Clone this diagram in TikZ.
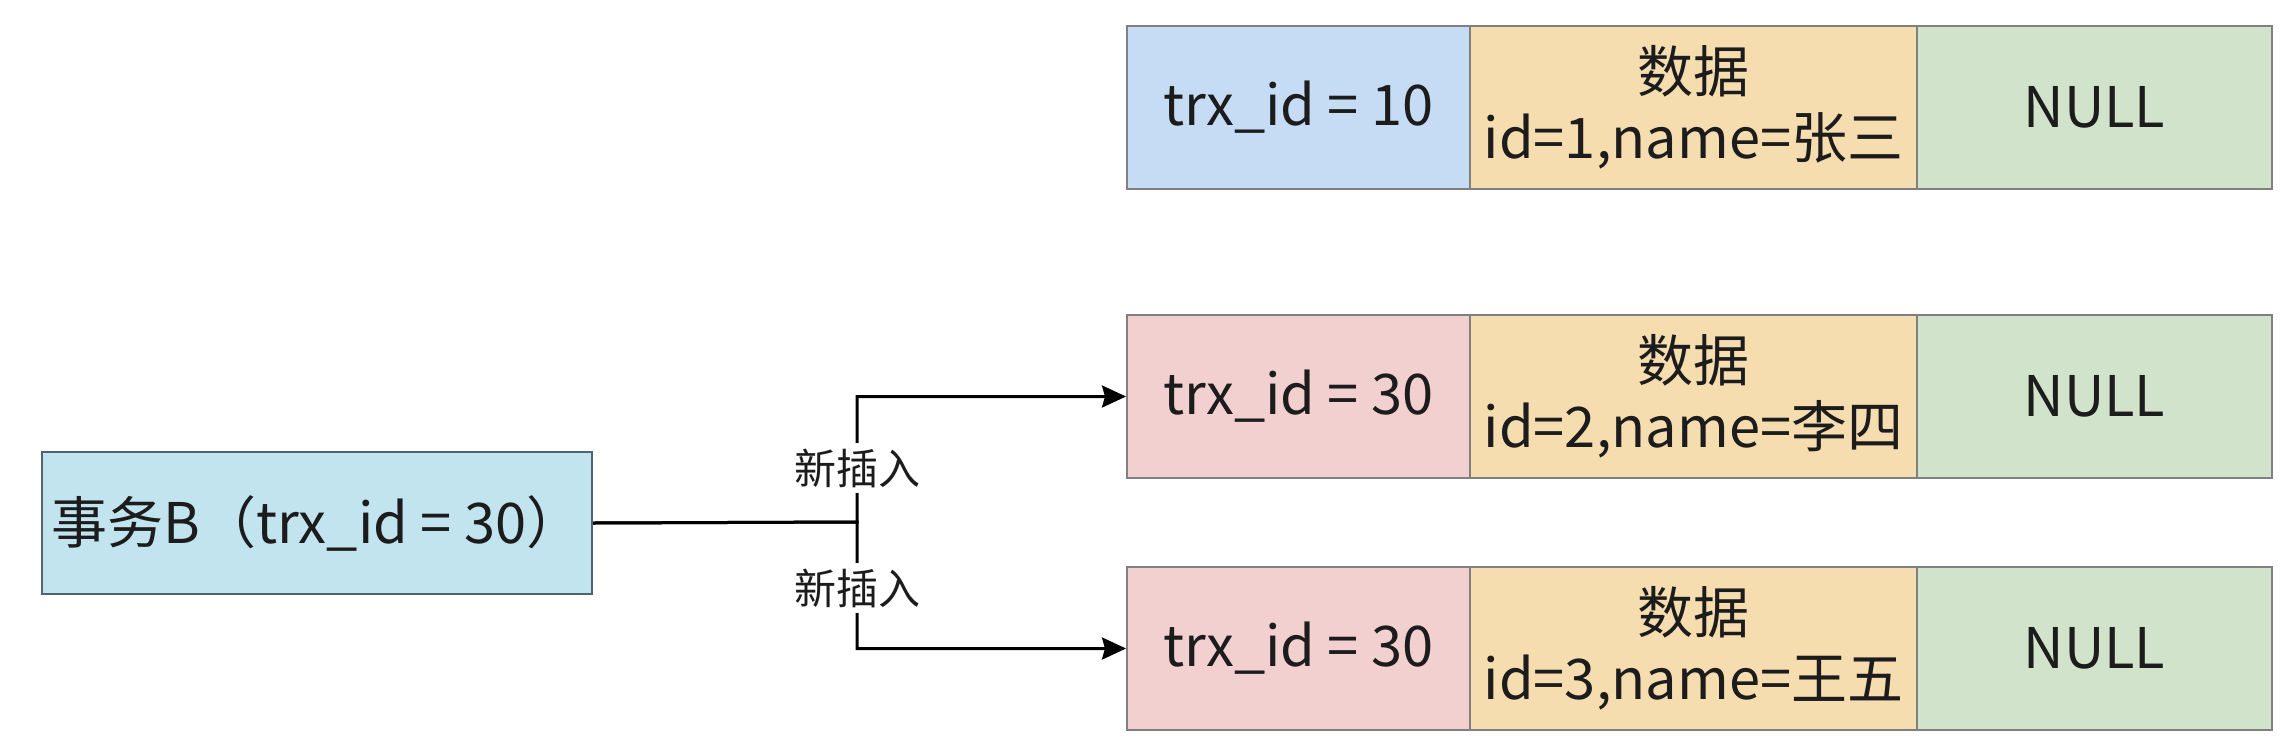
\documentclass[tikz,border=0pt]{standalone}
\usepackage{fontspec}
\setmainfont{Noto Sans CJK SC}
\usetikzlibrary{arrows.meta}
\definecolor{cblue}{HTML}{C6DCF5}
\definecolor{corange}{HTML}{F6DDB0}
\definecolor{cgreen}{HTML}{D1E4CB}
\definecolor{cpink}{HTML}{F3D0D0}
\definecolor{cleft}{HTML}{C1E4EF}
\definecolor{cstroke}{HTML}{808080}
\definecolor{cleftstroke}{HTML}{4F6470}
\definecolor{ctext}{HTML}{1C1C1C}
\begin{document}
\begin{tikzpicture}[x=1pt,y=-1pt,
  cell/.style={draw=cstroke, line width=2pt, minimum height=163pt, inner sep=0pt,
    anchor=north west, align=center, text=ctext, font=\fontsize{56}{66}\selectfont},
  idcell/.style={cell, minimum width=343pt},
  datacell/.style={cell, minimum width=447pt, fill=corange},
  nullcell/.style={cell, minimum width=355pt, fill=cgreen},
  conn/.style={draw=black, line width=3pt, -{Stealth[length=24pt,width=22pt,inset=3pt]}},
  lbl/.style={fill=white, inner sep=6pt, text=ctext, font=\fontsize{42}{48}\selectfont}
]
\useasboundingbox (0,0) rectangle (2290,750);
% row 1
\node[idcell, fill=cblue] (r1a) at (1126,25) {trx\_id = 10};
\node[datacell] (r1b) at (1469,25) {数据\\id=1,name=张三};
\node[nullcell] (r1c) at (1916,25) {NULL};
% row 2
\node[idcell, fill=cpink] (r2a) at (1126,314) {trx\_id = 30};
\node[datacell] (r2b) at (1469,314) {数据\\id=2,name=李四};
\node[nullcell] (r2c) at (1916,314) {NULL};
% row 3
\node[idcell, fill=cpink] (r3a) at (1126,566) {trx\_id = 30};
\node[datacell] (r3b) at (1469,566) {数据\\id=3,name=王五};
\node[nullcell] (r3c) at (1916,566) {NULL};
% transaction box
\node[draw=cleftstroke, fill=cleft, line width=2pt, anchor=north west,
  minimum width=550pt, minimum height=142pt, inner sep=0pt, text=ctext,
  font=\fontsize{56}{66}\selectfont] (tx) at (41,451) {事务B（trx\_id = 30）};
\coordinate (j) at (857,522);
\draw[conn] (tx.east) -- (j) |- (r2a.west);
\draw[conn] (tx.east) -- (j) |- (r3a.west);
\node[lbl] (l1) at (857,468) {新插入};
\node[lbl] (l2) at (857,588) {新插入};
\end{tikzpicture}
\end{document}
